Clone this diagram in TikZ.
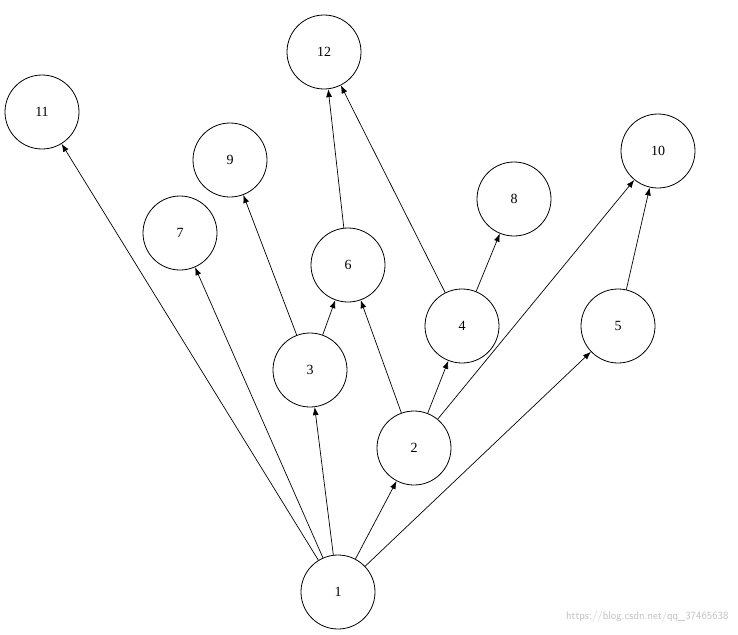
\documentclass[tikz,border=0pt]{standalone}
\usepackage{fontspec}
\setmainfont{Liberation Serif}
\usetikzlibrary{arrows.meta}
\begin{document}
\begin{tikzpicture}[x=1pt,y=-1pt,
  n/.style={circle,draw,line width=0.8pt,minimum size=74pt,inner sep=0pt,font=\fontsize{14}{16}\selectfont},
  e/.style={-{Latex[length=8pt,width=6pt]},line width=0.7pt}]
\useasboundingbox (0,0) rectangle (738,634);
\node[n] (1) at (338,592) {1};
\node[n] (2) at (414,448) {2};
\node[n] (3) at (310,370) {3};
\node[n] (4) at (462,326) {4};
\node[n] (5) at (618,326) {5};
\node[n] (6) at (348,265) {6};
\node[n] (7) at (180,233) {7};
\node[n] (8) at (514,199) {8};
\node[n] (9) at (230,160) {9};
\node[n] (10) at (658,151) {10};
\node[n] (11) at (42,112) {11};
\node[n] (12) at (324,52) {12};
\foreach \a/\b in {1/11,1/7,1/3,1/2,1/5,3/9,3/6,2/6,2/4,2/10,4/8,4/12,6/12,5/10}
  \draw[e] (\a) -- (\b);
\node[anchor=south east,text=black!25,font=\sffamily\fontsize{11}{12}\selectfont] (wm) at (732,626) {https://blog.csdn.net/qq\_37465638};
\end{tikzpicture}
\end{document}
